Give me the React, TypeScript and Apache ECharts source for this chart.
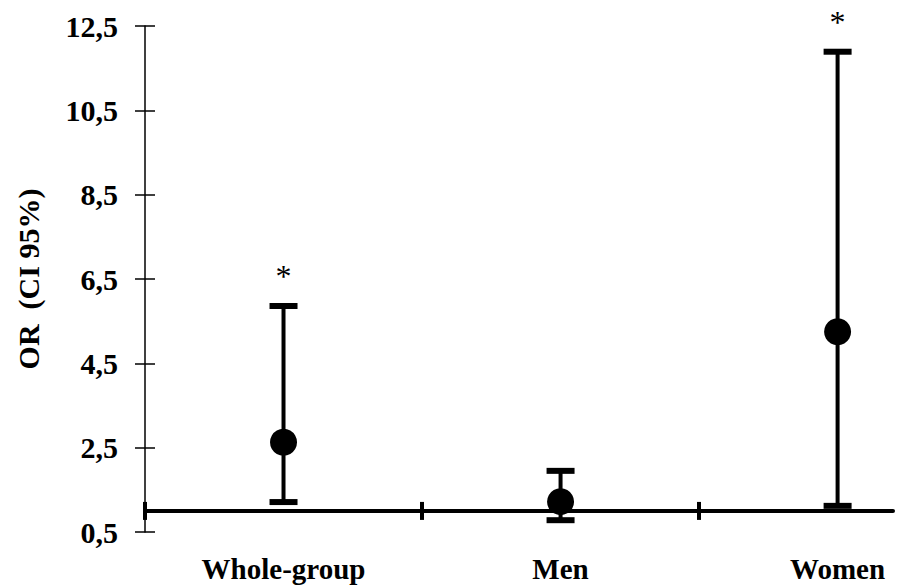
import React, { useEffect, useRef } from "react";
import * as echarts from "echarts";

const categories = ["Whole-group", "Men", "Women"];
const orValues = [2.63, 1.22, 5.25];
const ciLower = [1.21, 0.78, 1.12];
const ciUpper = [5.86, 1.95, 11.89];
const significant = [true, false, true];
const yTickValues = [0.5, 2.5, 4.5, 6.5, 8.5, 10.5, 12.5];
const xBoundaryValues = [0, 1, 2];
const yMin = 0.5;
const yMax = 12.5;
const xAxisCrossing = 1;
const xMax = 2.7;

const W = 898;
const H = 587;
const GRID_LEFT = 145;
const GRID_RIGHT = 5;
const GRID_TOP = 26;
const GRID_BOTTOM = 55;
const FONT = "'Liberation Serif', 'Times New Roman', serif";

export default function App() {
  const ref = useRef<HTMLDivElement>(null);

  useEffect(() => {
    if (!ref.current) return;
    const chart = echarts.init(ref.current, undefined, { renderer: "svg" });
    const plotH = H - GRID_TOP - GRID_BOTTOM;
    const axisGridH = (plotH * (yMax - xAxisCrossing)) / (yMax - yMin);

    const points = categories.map((c, i) => [i + 0.5, orValues[i]]);
    const bars = categories.map((c, i) => [i + 0.5, ciLower[i], ciUpper[i], significant[i] ? 1 : 0]);

    const option: any = {
      animation: false,
      backgroundColor: "#ffffff",
      grid: [
        { left: GRID_LEFT, right: GRID_RIGHT, top: GRID_TOP, bottom: GRID_BOTTOM },
        { left: GRID_LEFT, right: GRID_RIGHT, top: GRID_TOP, height: axisGridH },
      ],
      xAxis: [
        { type: "value", gridIndex: 0, min: 0, max: xMax, show: false },
        {
          type: "value",
          gridIndex: 1,
          min: 0,
          max: xMax,
          position: "bottom",
          axisLine: { show: true, lineStyle: { color: "#000", width: 4 } },
          axisTick: { show: true, customValues: xBoundaryValues, length: 9, lineStyle: { color: "#000", width: 4 } },
          axisLabel: {
            show: true,
            customValues: categories.map((c, i) => i + 0.5),
            formatter: (v: number) => categories[Math.round(v - 0.5)] ?? "",
            margin: 44,
            fontFamily: FONT,
            fontWeight: "bold",
            fontSize: 29,
            color: "#000",
          },
          splitLine: { show: false },
        },
        {
          type: "value",
          gridIndex: 1,
          min: 0,
          max: xMax,
          position: "bottom",
          axisLine: { show: false },
          axisTick: { show: true, inside: true, customValues: xBoundaryValues, length: 9, lineStyle: { color: "#000", width: 4 } },
          axisLabel: { show: false },
          splitLine: { show: false },
        },
      ],
      yAxis: [
        {
          type: "value",
          gridIndex: 0,
          min: yMin,
          max: yMax,
          interval: 2,
          name: "OR  (CI 95%)",
          nameLocation: "middle",
          nameRotate: 90,
          nameGap: 102,
          nameTextStyle: { fontFamily: FONT, fontWeight: "bold", fontSize: 30, color: "#000" },
          axisLine: { show: true, lineStyle: { color: "#000", width: 1.5 } },
          axisTick: { show: true, customValues: yTickValues, length: 10, lineStyle: { color: "#000", width: 1.5 } },
          axisLabel: {
            show: true,
            customValues: yTickValues,
            formatter: (v: number) => v.toFixed(1).replace(".", ","),
            margin: 27,
            fontFamily: FONT,
            fontWeight: "bold",
            fontSize: 30,
            color: "#000",
          },
          splitLine: { show: false },
        },
        {
          type: "value",
          gridIndex: 0,
          min: yMin,
          max: yMax,
          interval: 2,
          position: "left",
          axisLine: { show: false },
          axisTick: { show: true, inside: true, customValues: yTickValues, length: 10, lineStyle: { color: "#000", width: 1.5 } },
          axisLabel: { show: false },
          splitLine: { show: false },
        },
        { type: "value", gridIndex: 1, min: xAxisCrossing, max: yMax, show: false },
      ],
      series: [
        {
          type: "custom",
          xAxisIndex: 0,
          yAxisIndex: 0,
          data: bars,
          z: 3,
          renderItem: (params: any, api: any) => {
            const x = api.value(0);
            const lo = api.coord([x, api.value(1)]);
            const hi = api.coord([x, api.value(2)]);
            const star = api.value(3);
            const capW = 28;
            const capH = 6;
            const children: any[] = [
              { type: "line", shape: { x1: lo[0], y1: lo[1], x2: hi[0], y2: hi[1] }, style: { stroke: "#000", lineWidth: 4 } },
              { type: "rect", shape: { x: hi[0] - capW / 2, y: hi[1] - capH / 2, width: capW, height: capH }, style: { fill: "#000" } },
              { type: "rect", shape: { x: lo[0] - capW / 2, y: lo[1] - capH / 2, width: capW, height: capH }, style: { fill: "#000" } },
            ];
            if (star) {
              children.push({
                type: "text",
                style: {
                  x: hi[0],
                  y: hi[1] - 14,
                  text: "*",
                  fill: "#000",
                  font: `normal 32px ${FONT}`,
                  textAlign: "center",
                  textVerticalAlign: "bottom",
                },
              });
            }
            return { type: "group", children };
          },
        },
        {
          type: "scatter",
          xAxisIndex: 0,
          yAxisIndex: 0,
          data: points,
          symbol: "circle",
          symbolSize: 27,
          itemStyle: { color: "#000", opacity: 1 },
          z: 4,
        },
      ],
    };
    chart.setOption(option);
    return () => chart.dispose();
  }, []);

  return <div ref={ref} style={{ position: "absolute", left: 0, top: 0, width: W, height: H }} />;
}
